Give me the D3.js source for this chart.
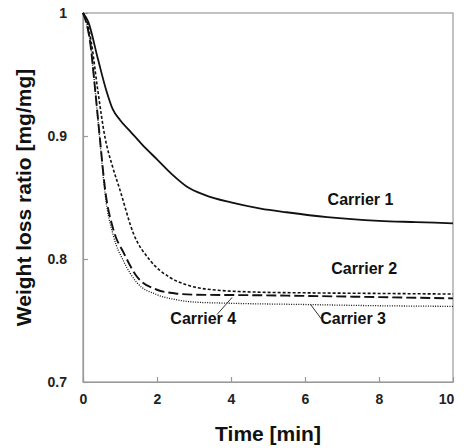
<!DOCTYPE html>
<html>
<head>
<meta charset="utf-8">
<script src="https://cdn.jsdelivr.net/npm/d3@7/dist/d3.min.js"></script>
<style>
  body { margin: 0; background: #fff; }
  svg { display: block; font-family: "Liberation Sans", Arial, sans-serif; font-weight: bold; }
</style>
</head>
<body>
<div id="chart"></div>
<script>
// [time (min), weight loss ratio]
const carrier1 = [[0,1],[0.14,0.993],[0.4,0.963],[0.63,0.937],[0.8,0.922],[1,0.913],[1.3,0.903],[1.6,0.893],[2,0.881],[2.4,0.869],[2.8,0.859],[3.3,0.852],[4,0.846],[4.8,0.841],[5.5,0.838],[6.6,0.834],[8,0.831],[9,0.830],[10,0.829]];
const carrier2 = [[0,1],[0.1,0.994],[0.22,0.977],[0.4,0.937],[0.6,0.898],[0.8,0.875],[1,0.856],[1.36,0.821],[1.81,0.799],[2.35,0.785],[2.8,0.779],[3.5,0.775],[4.8,0.773],[6,0.7725],[8,0.772],[10,0.7715]];
const carrier3 = [[0,1],[0.1,0.991],[0.19,0.977],[0.33,0.937],[0.46,0.895],[0.6,0.852],[0.82,0.819],[1.1,0.798],[1.45,0.781],[2,0.771],[2.5,0.767],[3,0.765],[4,0.764],[6,0.763],[8,0.762],[10,0.7615]];
const carrier4 = [[0,1],[0.1,0.991],[0.19,0.977],[0.33,0.937],[0.46,0.897],[0.6,0.856],[0.82,0.824],[1.1,0.805],[1.45,0.786],[2,0.775],[2.5,0.772],[3,0.771],[4.8,0.7705],[6,0.77],[8,0.769],[10,0.768]];
const xTicks = [0, 2, 4, 6, 8, 10];
const yTicks = [0.7, 0.8, 0.9, 1];
const seriesNames = ["Carrier 1", "Carrier 2", "Carrier 3", "Carrier 4"];

const W = 466, H = 448;
const margin = {top: 13, right: 13, bottom: 66, left: 83};

const svg = d3.select("#chart").append("svg").attr("width", W).attr("height", H);

const x = d3.scaleLinear().domain([0, 10]).range([margin.left, W - margin.right]);
const y = d3.scaleLinear().domain([0.7, 1]).range([H - margin.bottom, margin.top]);

const axisColor = "#999";

// frame (top and right)
svg.append("rect")
    .attr("x", x(0)).attr("y", y(1))
    .attr("width", x(10) - x(0)).attr("height", y(0.7) - y(1))
    .style("fill", "none").style("stroke", axisColor).style("stroke-width", 1.2);

const xAxis = svg.append("g")
    .attr("transform", `translate(0,${y(0.7)})`)
    .call(d3.axisBottom(x).tickValues(xTicks).tickSizeInner(-5).tickSizeOuter(0).tickPadding(12).tickFormat(d3.format("d")));

const yAxis = svg.append("g")
    .attr("transform", `translate(${x(0)},0)`)
    .call(d3.axisLeft(y).tickValues(yTicks).tickSizeInner(-5).tickSizeOuter(0).tickPadding(16).tickFormat(d => d === 1 ? "1" : d3.format(".1f")(d)));

[xAxis, yAxis].forEach(a => {
    a.selectAll("path, line").style("stroke", axisColor).style("stroke-width", 1.2);
    a.selectAll("text").style("font-size", "14px").style("font-weight", "bold")
        .style("fill", "#222").style("font-family", "'Liberation Sans', Arial, sans-serif");
});
xAxis.selectAll(".tick text").filter(d => d === 10).attr("dx", -7);

const line = d3.line()
    .x(d => x(d[0]))
    .y(d => y(d[1]))
    .curve(d3.curveMonotoneX);

const styles = [
    {data: carrier1, dash: null, width: 1.8},
    {data: carrier2, dash: "3,2", width: 1.6},
    {data: carrier3, dash: "1,1.4", width: 1.3},
    {data: carrier4, dash: "10,4", width: 1.9}
];

styles.forEach(s => {
    svg.append("path")
        .datum(s.data)
        .attr("d", line)
        .style("fill", "none")
        .style("stroke", "#111")
        .style("stroke-width", s.width)
        .style("stroke-dasharray", s.dash);
});

// series labels
const labels = [
    {name: seriesNames[0], t: 7.5, v: 0.8435},
    {name: seriesNames[1], t: 7.6, v: 0.7875},
    {name: seriesNames[2], t: 7.3, v: 0.7475},
    {name: seriesNames[3], t: 3.25, v: 0.7475}
];
labels.forEach(l => {
    svg.append("text")
        .attr("x", x(l.t)).attr("y", y(l.v))
        .attr("text-anchor", "middle")
        .style("font-size", "16px")
        .style("fill", "#111")
        .text(l.name);
});

// leader lines
const leaders = [
    [[6.14, 0.7635], [6.46, 0.7505]],
    [[4.03, 0.7688], [3.62, 0.7548]]
];
leaders.forEach(p => {
    svg.append("line")
        .attr("x1", x(p[0][0])).attr("y1", y(p[0][1]))
        .attr("x2", x(p[1][0])).attr("y2", y(p[1][1]))
        .style("stroke", "#333").style("stroke-width", 1);
});

// axis titles
svg.append("text")
    .attr("x", (x(0) + x(10)) / 2).attr("y", 441)
    .attr("text-anchor", "middle")
    .style("font-size", "21px").style("fill", "#111")
    .text("Time [min]");

svg.append("text")
    .attr("transform", `translate(31,${(y(0.7) + y(1)) / 2}) rotate(-90)`)
    .attr("text-anchor", "middle")
    .style("font-size", "21px").style("fill", "#111")
    .text("Weight loss ratio [mg/mg]");
</script>
</body>
</html>
